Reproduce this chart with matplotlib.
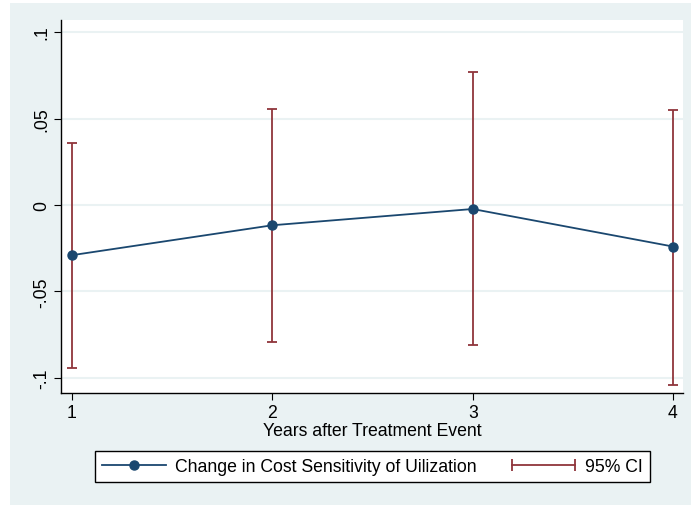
import matplotlib
matplotlib.use("Agg")
import matplotlib.pyplot as plt
from matplotlib.patches import Rectangle
from matplotlib.lines import Line2D
from matplotlib.legend_handler import HandlerLine2D

plt.rcParams['font.family'] = ['Liberation Sans', 'DejaVu Sans']

years = [1, 2, 3, 4]
estimate = [-0.029, -0.0117, -0.0023, -0.024]
ci_upper = [0.0356, 0.0554, 0.0770, 0.0548]
ci_lower = [-0.0945, -0.0793, -0.0810, -0.1038]
yticks = [-0.1, -0.05, 0, 0.05, 0.1]
ytick_labels = ['-.1', '-.05', '0', '.05', '.1']
series_label = 'Change in Cost Sensitivity of Uilization'
ci_label = '95% CI'
xlabel = 'Years after Treatment Event'

navy = '#1a476f'
maroon = '#90353b'
panel = '#eaf2f3'

W, H = 691, 506
fig = plt.figure(figsize=(W / 100, H / 100), dpi=100)
fig.patch.set_facecolor('white')
fig.patches.append(Rectangle((10 / W, 0), 1 - 10 / W, 1 - 4 / H,
                             transform=fig.transFigure, facecolor=panel,
                             edgecolor='none', zorder=-10))

ax = fig.add_axes([61 / W, 1 - 394 / H, (683 - 61) / W, (394 - 21) / H])
ax.set_facecolor('white')

err_lo = [e - l for e, l in zip(estimate, ci_lower)]
err_hi = [u - e for e, u in zip(estimate, ci_upper)]
ax.errorbar(years, estimate, yerr=[err_lo, err_hi], fmt='none',
            ecolor=maroon, elinewidth=1.3, capsize=3.5, capthick=1.3, zorder=3)
ax.plot(years, estimate, color=navy, lw=1.3, marker='o', markersize=6.5,
        zorder=4)

ax.set_xlim(0.945, 4.05)
ax.set_ylim(-0.1087, 0.107)
ax.set_xticks(years)
ax.set_xticklabels([str(y) for y in years])
ax.set_yticks(yticks)
ax.set_yticklabels(ytick_labels, rotation=90, va='center')
ax.grid(axis='y', color=panel, lw=1.5)
ax.set_axisbelow(True)
for s in ['top', 'right']:
    ax.spines[s].set_visible(False)
for s in ['left', 'bottom']:
    ax.spines[s].set_color('black')
    ax.spines[s].set_linewidth(1.0)
ax.tick_params(direction='out', length=5, width=0.8, color='black',
               labelsize=12.7, pad=3)
ax.set_xlabel(xlabel, fontsize=12.7, labelpad=1)

h1 = Line2D([], [], color=navy, lw=1.3, marker='o', markersize=6.5)
h2 = Line2D([], [], color=maroon, lw=1.3, marker='|', markersize=8,
            markeredgewidth=1.3)
leg = fig.legend([h1, h2], [series_label, ci_label], ncol=2,
                 loc='center', bbox_to_anchor=(95 / W, 1 - 484 / H, 555 / W, 33 / H),
                 mode='expand', borderaxespad=0, fontsize=12.7, frameon=True,
                 fancybox=False, edgecolor='black', framealpha=1,
                 handlelength=3.6, handletextpad=0.55,
                 columnspacing=1.6, borderpad=0.4,
                 handler_map={h1: HandlerLine2D(numpoints=1),
                              h2: HandlerLine2D(numpoints=2, marker_pad=0)})
leg.get_frame().set_linewidth(1.0)

fig.savefig('out.png', dpi=100)
